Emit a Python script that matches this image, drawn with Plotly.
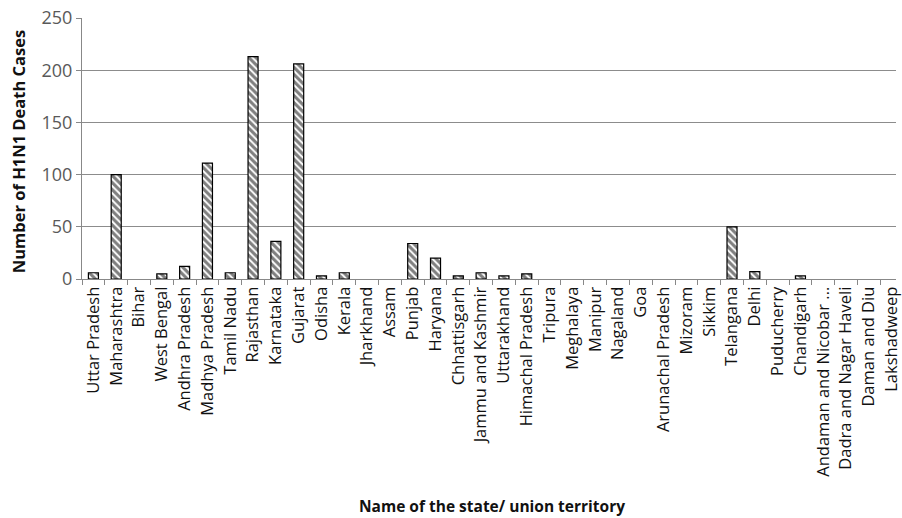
import plotly.graph_objects as go

# H1N1 death cases by state / union territory
states = [
    "Uttar Pradesh", "Maharashtra", "Bihar", "West Bengal", "Andhra Pradesh",
    "Madhya Pradesh", "Tamil Nadu", "Rajasthan", "Karnataka", "Gujarat",
    "Odisha", "Kerala", "Jharkhand", "Assam", "Punjab", "Haryana",
    "Chhattisgarh", "Jammu and Kashmir", "Uttarakhand", "Himachal Pradesh",
    "Tripura", "Meghalaya", "Manipur", "Nagaland", "Goa", "Arunachal Pradesh",
    "Mizoram", "Sikkim", "Telangana", "Delhi", "Puducherry", "Chandigarh",
    "Andaman and Nicobar ...", "Dadra and Nagar Haveli", "Daman and Diu",
    "Lakshadweep",
]
deaths = [
    6, 100, 0, 5, 12,
    111, 6, 213, 36, 206,
    3, 6, 0, 0, 34, 20,
    3, 6, 3, 5,
    0, 0, 0, 0, 0, 0,
    0, 0, 50, 7, 0, 3,
    0, 0, 0,
    0,
]
y_ticks = [0, 50, 100, 150, 200, 250]

# no outline for empty bars so zero counts leave no mark on the axis
outline_widths = [1.2 if v > 0 else 0 for v in deaths]

fig = go.Figure(
    go.Bar(
        x=states,
        y=deaths,
        width=0.44,
        marker=dict(
            color="white",
            line=dict(color="black", width=outline_widths),
            pattern=dict(shape="\\", fgcolor="black", bgcolor="white",
                         size=5, solidity=0.62),
        ),
    )
)

n = len(states)
fig.update_layout(
    width=902,
    height=518,
    margin=dict(l=82, r=0, t=18, b=239),
    plot_bgcolor="white",
    paper_bgcolor="white",
    showlegend=False,
    font=dict(family="Open Sans, Liberation Sans, sans-serif", color="#222"),
)

fig.update_xaxes(
    type="category",
    range=[-0.5, n - 0.5 - 0.31],
    tickangle=-90,
    tickson="boundaries",
    ticks="outside",
    ticklen=5,
    tickcolor="#888",
    showline=True,
    linecolor="#888",
    linewidth=1.2,
    showgrid=False,
    tickfont=dict(size=16.5, color="#111", family="Open Sans, sans-serif"),
)

fig.update_yaxes(
    range=[0, 250],
    tickvals=y_ticks,
    ticks="outside",
    ticklen=5,
    tickcolor="#888",
    showline=True,
    linecolor="#888",
    linewidth=1.2,
    showgrid=True,
    gridcolor="#8c8c8c",
    gridwidth=1.3,
    zeroline=False,
    tickfont=dict(size=18, color="#595959", family="Open Sans, sans-serif"),
)

fig.add_annotation(
    text="<b>Number of H1N1 Death Cases</b>",
    xref="paper", yref="paper",
    x=-0.078, y=0.488,
    textangle=-90,
    showarrow=False,
    xanchor="center", yanchor="middle",
    font=dict(size=16.5, color="#111", family="Open Sans, sans-serif"),
)
fig.add_annotation(
    text="<b>Name of the state/ union territory</b>",
    xref="paper", yref="paper",
    x=0.504, y=-0.868,
    showarrow=False,
    xanchor="center", yanchor="middle",
    font=dict(size=15.5, color="#111", family="Open Sans, sans-serif"),
)

fig.write_html("out.html")
